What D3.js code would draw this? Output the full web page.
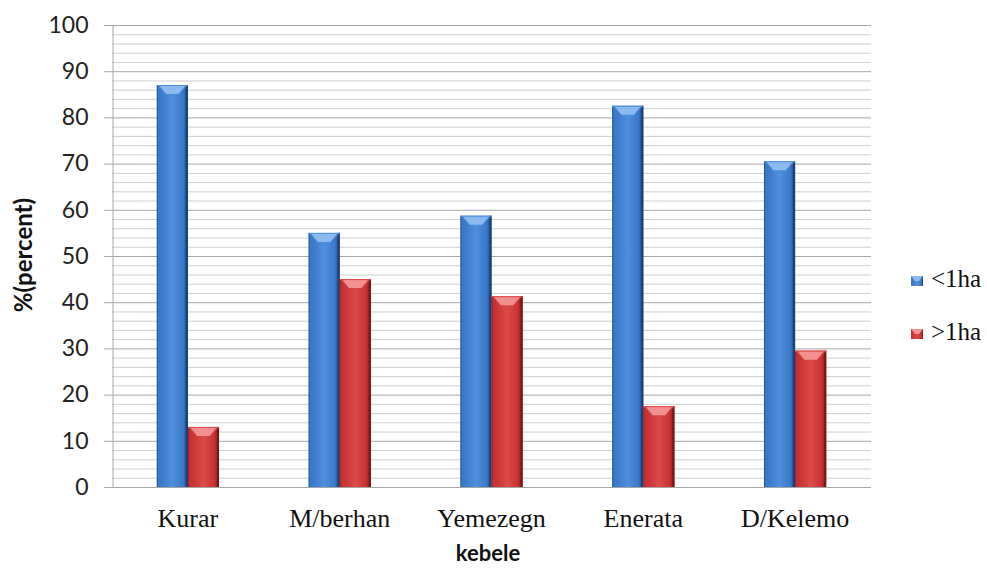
<!DOCTYPE html>
<html><head><meta charset="utf-8">
<script src="https://cdn.jsdelivr.net/npm/d3@7/dist/d3.min.js"></script>
<style>body{margin:0;background:#fff}svg{display:block}</style>
</head><body><div id="chart"></div>
<script>
const categories = ["Kurar","M/berhan","Yemezegn","Enerata","D/Kelemo"];
const seriesNames = ["<1ha", ">1ha"];
const lessThan1ha = [87, 55, 58.7, 82.5, 70.5];
const moreThan1ha = [13, 45, 41.3, 17.5, 29.5];
const yTicks = [0,10,20,30,40,50,60,70,80,90,100];

const W = 987, H = 568;
const m = {left:112, right:116, top:25, bottom:81};
const svg = d3.select("#chart").append("svg").attr("width",W).attr("height",H);

const x0 = d3.scaleBand().domain(categories).range([m.left, W-m.right]).paddingInner(0.59).paddingOuter(0.295);
const x1 = d3.scaleBand().domain(seriesNames).range([0, x0.bandwidth()]);
const y = d3.scaleLinear().domain([0,100]).range([H-m.bottom, m.top]);

const sans = "Lato, 'Open Sans', sans-serif";
const serif = "'Liberation Serif', 'Times New Roman', serif";

const defs = svg.append("defs");
const pal = {
  "<1ha": {dark:"#173f78", mid:"#3a78c8", light:"#4f8fdc", cap:"#8cbaf0", capSide:"#4a86d4"},
  ">1ha": {dark:"#7a1616", mid:"#c83232", light:"#dc4a4a", cap:"#f09090", capSide:"#d24545"}
};
seriesNames.forEach((s,i)=>{
  const g = defs.append("linearGradient").attr("id","g"+i).attr("x1","0").attr("x2","1").attr("y1","0").attr("y2","0");
  g.append("stop").attr("offset","0").attr("stop-color",pal[s].mid);
  g.append("stop").attr("offset","0.12").attr("stop-color",pal[s].mid);
  g.append("stop").attr("offset","0.5").attr("stop-color",pal[s].light);
  g.append("stop").attr("offset","0.85").attr("stop-color",pal[s].mid);
  g.append("stop").attr("offset","1").attr("stop-color",pal[s].dark);
});

// minor gridlines
const minor = d3.range(0,101,2).filter(v=>v%10!==0);
svg.append("g").selectAll("line").data(minor).join("line")
  .attr("x1",m.left).attr("x2",W-m.right).attr("y1",d=>y(d)+0.5).attr("y2",d=>y(d)+0.5)
  .attr("stroke","#cfcfcf").attr("stroke-width",1);
// major gridlines
svg.append("g").selectAll("line").data(yTicks).join("line")
  .attr("x1",m.left-8).attr("x2",W-m.right).attr("y1",d=>y(d)+0.5).attr("y2",d=>y(d)+0.5)
  .attr("stroke","#a6a6a6").attr("stroke-width",1);

// y axis
const yAxis = svg.append("g").attr("transform",`translate(${m.left+0.5},0)`)
  .call(d3.axisLeft(y).tickValues(yTicks).tickSize(0).tickPadding(24));
yAxis.select(".domain").attr("stroke","#a6a6a6");
yAxis.selectAll("text").attr("font-family",sans).attr("font-size",23).attr("fill","#222");

// bars
const groups = svg.append("g").selectAll("g").data(categories).join("g")
  .attr("transform",d=>`translate(${x0(d)},0)`);
const rows = (c,ci)=>[ {s:seriesNames[0], v:lessThan1ha[ci], i:0}, {s:seriesNames[1], v:moreThan1ha[ci], i:1} ];
groups.each(function(c,ci){
  const g = d3.select(this);
  rows(c,ci).forEach(r=>{
    const bx = x1(r.s), bw = x1.bandwidth(), by = y(r.v), bh = y(0)-y(r.v);
    g.append("rect").attr("x",bx).attr("y",by).attr("width",bw).attr("height",bh)
      .attr("fill",`url(#g${r.i})`);
    g.append("rect").attr("x",bx+bw-2).attr("y",by).attr("width",2).attr("height",bh).attr("fill",pal[r.s].dark);
    g.append("rect").attr("x",bx).attr("y",by).attr("width",1).attr("height",bh).attr("fill",pal[r.s].dark).attr("opacity",0.6);
    const ch = 9;
    g.append("path").attr("d",`M${bx},${by}L${bx+bw},${by}L${bx+bw*0.72},${by+ch}L${bx+bw*0.28},${by+ch}Z`).attr("fill",pal[r.s].capSide);
    g.append("path").attr("d",`M${bx+2},${by}L${bx+bw-2},${by}L${bx+bw*0.7},${by+ch}L${bx+bw*0.3},${by+ch}Z`).attr("fill",pal[r.s].cap);
    g.append("rect").attr("x",bx).attr("y",by).attr("width",bw).attr("height",1).attr("fill",pal[r.s].light);
  });
});

// x axis
svg.append("line").attr("x1",m.left).attr("x2",W-m.right).attr("y1",y(0)+0.5).attr("y2",y(0)+0.5).attr("stroke","#a6a6a6");
svg.append("g").selectAll("text").data(categories).join("text")
  .attr("x",d=>x0(d)+x0.bandwidth()/2).attr("y",527).attr("text-anchor","middle")
  .attr("font-family",serif).attr("font-size",26).attr("fill","#111").text(d=>d);

// axis titles
svg.append("text").attr("x",488).attr("y",561).attr("text-anchor","middle")
  .attr("font-family",sans).attr("font-weight","bold").attr("font-size",22).attr("fill","#111").text("kebele");
svg.append("text").attr("transform",`translate(32,${y(50)-1}) rotate(-90)`).attr("text-anchor","middle")
  .attr("font-family",sans).attr("font-weight","bold").attr("font-size",24).attr("fill","#111").text("%(percent)");

// legend
const leg = svg.append("g").selectAll("g").data(seriesNames).join("g")
  .attr("transform",(d,i)=>`translate(911,${281 + i*53})`);
leg.append("rect").attr("x",0).attr("y",-5).attr("width",12).attr("height",10).attr("fill",(d,i)=>`url(#g${i})`);
leg.append("path").attr("d","M0,-5L12,-5L8,0L4,0Z").attr("fill",d=>pal[d].cap);
leg.append("text").attr("x",20).attr("y",6)
  .attr("font-family",serif).attr("font-size",25).attr("fill","#111").text(d=>d);
</script></body></html>
